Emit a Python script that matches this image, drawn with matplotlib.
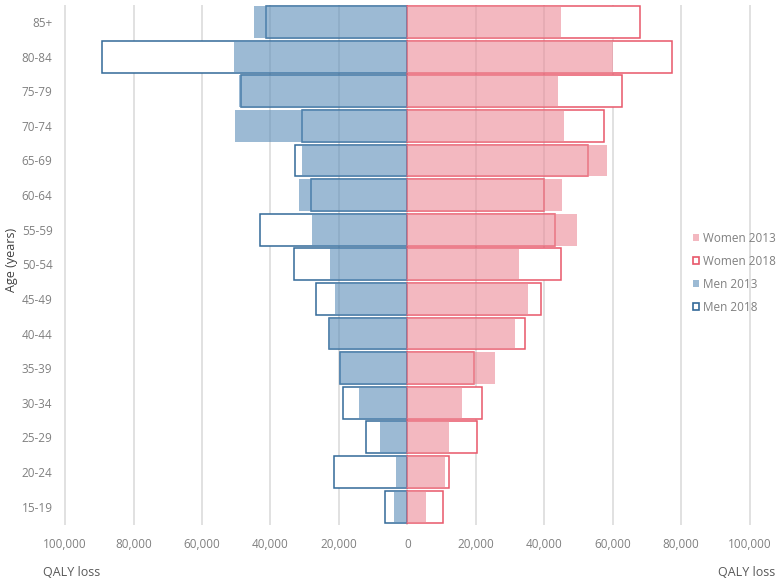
import matplotlib
matplotlib.use("Agg")
import matplotlib.pyplot as plt
import numpy as np
from matplotlib.patches import Patch
from matplotlib.ticker import FuncFormatter

# age groups, bottom to top
age_groups = [
    "15-19", "20-24", "25-29", "30-34", "35-39", "40-44", "45-49",
    "50-54", "55-59", "60-64", "65-69", "70-74", "75-79", "80-84", "85+",
]

men_2013 = np.array([3900, 3400, 8000, 14000, 20000, 23000, 21100, 22600,
                     27800, 31600, 30800, 50300, 49200, 50600, 44800])
men_2018 = np.array([6500, 21400, 12100, 18700, 19600, 22800, 26700, 33200,
                     43000, 28200, 32800, 30800, 48500, 89200, 41400])
women_2013 = np.array([5400, 10900, 12200, 16100, 25500, 31600, 35400, 32600,
                       49600, 45100, 58400, 45700, 43900, 60200, 44900])
women_2018 = np.array([10500, 12100, 20400, 21700, 19500, 34300, 39200, 45000,
                       43200, 40000, 52900, 57400, 62600, 77300, 68100])

x_ticks = np.arange(-100000, 100001, 20000)

BLUE_FILL = (0.357, 0.553, 0.722, 0.6)
BLUE_EDGE = "#336a99"
PINK_FILL = (0.922, 0.541, 0.588, 0.6)
RED_EDGE = "#e8576a"
TEXT_GREY = "#808080"

plt.rcParams["font.family"] = ["Open Sans", "DejaVu Sans"]

fig = plt.figure(figsize=(7.77, 5.80), dpi=100)
ax = fig.add_axes([58 / 777, 55 / 580, 719 / 777, 520 / 580])

y = np.arange(len(age_groups))
h = 0.92

ax.grid(axis="x", color="#d9d9d9", linewidth=1.1, zorder=0)
ax.set_axisbelow(True)

# white area where the 2018 box is longer than the 2013 bar (hides gridlines)
men_gap = np.maximum(men_2018 - men_2013, 0)
women_gap = np.maximum(women_2018 - women_2013, 0)
ax.barh(y, -men_gap, left=-men_2013, height=h,
        color="white", linewidth=0, zorder=1.5)
ax.barh(y, women_gap, left=women_2013, height=h,
        color="white", linewidth=0, zorder=1.5)

# 2018 outlines
ax.barh(y, -men_2018, height=h, facecolor="none",
        edgecolor=BLUE_EDGE, linewidth=1.1, zorder=1.8)
ax.barh(y, women_2018, height=h, facecolor="none",
        edgecolor=RED_EDGE, linewidth=1.1, zorder=1.8)

# 2013 filled bars
ax.barh(y, -men_2013, height=h, color=BLUE_FILL, linewidth=0, zorder=2)
ax.barh(y, women_2013, height=h, color=PINK_FILL, linewidth=0, zorder=2)

ax.set_xlim(-102060, 108020)
ax.set_ylim(-0.53, 14.49)
ax.set_xticks(x_ticks)
ax.xaxis.set_major_formatter(FuncFormatter(lambda v, p: f"{abs(v):,.0f}"))
ax.set_yticks(y)
ax.set_yticklabels(age_groups)

ax.tick_params(axis="both", length=0, labelsize=8.5, colors=TEXT_GREY)
ax.tick_params(axis="x", pad=9)
ax.tick_params(axis="y", pad=4)
for spine in ax.spines.values():
    spine.set_visible(False)

handles = [
    Patch(facecolor=PINK_FILL, edgecolor="none", label="Women 2013"),
    Patch(facecolor="white", edgecolor=RED_EDGE, linewidth=1.2, label="Women 2018"),
    Patch(facecolor=BLUE_FILL, edgecolor="none", label="Men 2013"),
    Patch(facecolor="white", edgecolor=BLUE_EDGE, linewidth=1.2, label="Men 2018"),
]
leg = fig.legend(
    handles=handles,
    loc="center left",
    bbox_to_anchor=(693 / 777, 1 - 273 / 580),
    frameon=False,
    fontsize=8.5,
    handlelength=0.55,
    handleheight=0.55,
    handletextpad=0.3,
    labelspacing=0.85,
    borderpad=0,
    borderaxespad=0,
)
for t in leg.get_texts():
    t.set_color(TEXT_GREY)

fig.text(11 / 777, 1 - 260 / 580, "Age (years)", rotation=90,
         ha="center", va="center", fontsize=9, color="#404040")
fig.text(43 / 777, 1 - 572 / 580, "QALY loss",
         ha="left", va="center", fontsize=9, color="#595959")
fig.text(775 / 777, 1 - 572 / 580, "QALY loss",
         ha="right", va="center", fontsize=9, color="#595959")

fig.savefig("out.png", dpi=100)
